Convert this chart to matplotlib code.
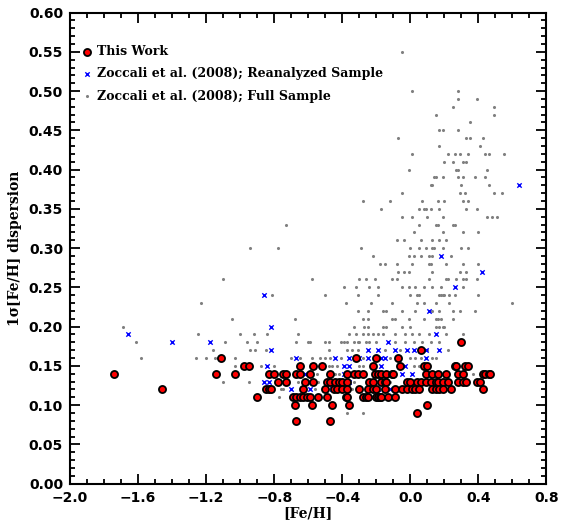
import matplotlib
matplotlib.use('Agg')
import matplotlib.pyplot as plt
from matplotlib.ticker import MultipleLocator

# dispersion levels (rows) and [Fe/H] values

# This Work (red circles)
work_levels = [0.18, 0.17, 0.16, 0.15, 0.14, 0.13, 0.12, 0.11, 0.10, 0.09, 0.08]
work_feh = [
    [0.30],
    [0.06],
    [-1.11, -0.32, -0.20, -0.07],
    [-0.98, -0.95, -0.65, -0.57, -0.52, -0.22, -0.06, 0.08, 0.10, 0.26, 0.27,
     0.32, 0.34],
    [-1.74, -1.14, -1.03, -0.83, -0.80, -0.75, -0.73, -0.67, -0.65, -0.59,
     -0.47, -0.37, -0.33, -0.31, -0.28, -0.21, -0.19, -0.17, -0.14, -0.11,
     -0.10, 0.09, 0.13, 0.16, 0.21, 0.28, 0.31, 0.43, 0.44, 0.46, 0.47],
    [-0.78, -0.73, -0.62, -0.57, -0.49, -0.47, -0.44, -0.42, -0.40, -0.37,
     -0.24, -0.22, -0.17, -0.15, -0.14, -0.02, 0.00, 0.04, 0.06, 0.09, 0.12,
     0.15, 0.16, 0.19, 0.22, 0.28, 0.31, 0.33, 0.39, 0.41],
    [-1.46, -0.85, -0.83, -0.82, -0.63, -0.50, -0.45, -0.43, -0.40, -0.37,
     -0.30, -0.25, -0.22, -0.20, -0.15, -0.09, -0.05, -0.02, 0.01, 0.03, 0.05,
     0.13, 0.15, 0.17, 0.19, 0.24, 0.43],
    [-0.90, -0.69, -0.67, -0.65, -0.63, -0.61, -0.59, -0.54, -0.49, -0.38,
     -0.37, -0.28, -0.26, -0.25, -0.20, -0.19, -0.18, -0.17, -0.13, -0.09],
    [-0.68, -0.58, -0.46, -0.36, 0.10],
    [0.04],
    [-0.67, -0.47],
]

# Zoccali et al. (2008); Reanalyzed Sample (blue crosses)
reanalyzed_feh = [-1.66, -1.40, -1.18, -0.86, -0.82, -0.82, -0.84, -0.86, -0.83,
                  -0.70, -0.67, -0.62, -0.60, -0.59, -0.46, -0.44, -0.39, -0.36,
                  -0.39, -0.36, -0.36, -0.30, -0.25, -0.25, -0.19, -0.19, -0.17,
                  -0.17, -0.15, -0.13, -0.12, -0.09, -0.05, -0.03, -0.02, 0.01,
                  0.02, 0.09, 0.09, 0.11, 0.15, 0.17, 0.18, 0.26, 0.42, 0.64]
reanalyzed_sig = [0.19, 0.18, 0.18, 0.24, 0.20, 0.17, 0.15, 0.13, 0.13,
                  0.12, 0.16, 0.14, 0.13, 0.12, 0.12, 0.16, 0.15, 0.15,
                  0.14, 0.13, 0.16, 0.16, 0.16, 0.17, 0.17, 0.12, 0.16,
                  0.15, 0.16, 0.18, 0.12, 0.17, 0.14, 0.15, 0.17, 0.14,
                  0.17, 0.17, 0.16, 0.22, 0.19, 0.17, 0.29, 0.25, 0.27, 0.38]

# Zoccali et al. (2008); Full Sample (grey dots)
full_levels = [0.55, 0.50, 0.49, 0.48, 0.47, 0.46, 0.45, 0.44, 0.43, 0.42,
               0.41, 0.40, 0.39, 0.38, 0.37, 0.36, 0.35, 0.34, 0.33, 0.32,
               0.31, 0.30, 0.29, 0.28, 0.27, 0.26, 0.25, 0.24, 0.23, 0.22,
               0.21, 0.20, 0.19, 0.18, 0.17, 0.16, 0.15, 0.14, 0.13, 0.12,
               0.11, 0.09]
full_feh = [
    [-0.05],
    [0.01, 0.28],
    [0.28, 0.39],
    [0.25, 0.49],
    [0.15, 0.49],
    [0.35],
    [0.17, 0.19, 0.28],
    [-0.07, 0.33, 0.35, 0.43],
    [0.17, 0.41],
    [0.01, 0.22, 0.26, 0.29, 0.34, 0.44, 0.46, 0.55],
    [0.20, 0.25, 0.31, 0.33],
    [-0.01, 0.27, 0.28, 0.45],
    [0.14, 0.15, 0.19, 0.28, 0.31, 0.38, 0.44],
    [0.12, 0.13, 0.30, 0.46],
    [-0.05, 0.29, 0.32, 0.49, 0.54],
    [-0.28, -0.12, 0.07, 0.16, 0.20, 0.31, 0.34],
    [-0.17, 0.05, 0.08, 0.09, 0.12, 0.17, 0.33, 0.39],
    [-0.05, 0.01, 0.10, 0.19, 0.45, 0.48, 0.51],
    [-0.73, 0.05, 0.15, 0.16, 0.25, 0.26],
    [0.02, 0.19, 0.31, 0.40],
    [-0.08, -0.04, 0.06, 0.13, 0.17, 0.21],
    [-0.94, -0.78, -0.29, 0.00, 0.05, 0.09, 0.13, 0.14, 0.19, 0.30, 0.34],
    [-0.22, -0.01, 0.02, 0.06, 0.11, 0.13, 0.24],
    [-0.18, -0.15, -0.08, 0.01, 0.11, 0.12, 0.21, 0.31, 0.40],
    [-0.07, -0.04, -0.01, 0.13, 0.29, 0.33],
    [-1.10, -0.58, -0.30, -0.26, -0.21, -0.11, -0.08, 0.11, 0.21, 0.22, 0.27,
     0.31, 0.33, 0.39],
    [-0.39, -0.32, -0.24, -0.19, -0.05, -0.01, 0.03, 0.08, 0.13, 0.18, 0.31],
    [-0.81, -0.50, -0.31, -0.19, 0.00, 0.04, 0.05, 0.17, 0.18, 0.19, 0.20,
     0.23, 0.26, 0.40],
    [-1.23, -0.38, -0.23, -0.11, 0.04, 0.08, 0.15, 0.23, 0.60],
    [-0.31, -0.25, -0.16, -0.14, -0.05, 0.03, 0.13, 0.17, 0.25, 0.29, 0.38],
    [-1.05, -0.68, -0.28, -0.25, -0.11, -0.09, -0.01, 0.08, 0.15, 0.16, 0.18,
     0.25],
    [-1.69, -0.33, -0.27, -0.25, -0.16, -0.14, -0.05, 0.00, 0.15, 0.17, 0.19,
     0.20],
    [-1.25, -1.00, -0.92, -0.84, -0.66, -0.36, -0.32, -0.28, -0.25, -0.22,
     -0.19, -0.16, -0.09, -0.03, 0.01, 0.05, 0.11, 0.21, 0.31],
    [-1.61, -1.09, -0.96, -0.90, -0.67, -0.60, -0.59, -0.50, -0.48, -0.41,
     -0.39, -0.37, -0.33, -0.31, -0.30, -0.26, -0.24, -0.20, -0.09, -0.03,
     0.02, 0.07, 0.12, 0.17],
    [-1.16, -0.94, -0.91, -0.85, -0.48, -0.37, -0.34, -0.31, -0.15, -0.06,
     0.10, 0.22],
    [-1.58, -1.26, -1.20, -1.15, -1.13, -1.03, -0.70, -0.65, -0.58, -0.53,
     -0.50, -0.47, -0.41, -0.28, -0.12, 0.00, 0.03, 0.06, 0.13, 0.15],
    [-1.03, -0.88, -0.80, -0.48, -0.46, -0.43, -0.30, -0.28, 0.02, 0.05],
    [-0.55, -0.44, -0.42, -0.36, -0.27, 0.37],
    [-1.10, -0.95, -0.66, -0.54, -0.33, -0.12, 0.34],
    [-0.76, -0.75, -0.56, -0.34, -0.22, -0.16],
    [-0.77, -0.71],
    [-0.37, -0.28],
]


def flatten(levels, rows):
    xs, ys = [], []
    for lev, row in zip(levels, rows):
        for v in row:
            xs.append(v)
            ys.append(lev)
    return xs, ys


full_x, full_y = flatten(full_levels, full_feh)
work_x, work_y = flatten(work_levels, work_feh)

serif = {'family': 'DejaVu Serif', 'weight': 'bold'}

fig = plt.figure(figsize=(5.71, 5.23), dpi=100)
ax = fig.add_axes([0.1226, 0.0753, 0.8344, 0.9007])

h_full = ax.scatter(full_x, full_y, s=5, color='#808080', linewidths=0, zorder=2,
                    label='Zoccali et al. (2008); Full Sample')
h_re = ax.scatter(reanalyzed_feh, reanalyzed_sig, s=10, marker='x', color='blue',
                  linewidths=1.0, zorder=3,
                  label='Zoccali et al. (2008); Reanalyzed Sample')
h_work = ax.scatter(work_x, work_y, s=26, color='red', edgecolors='black',
                    linewidths=1.3, zorder=4, label='This Work')

ax.set_xlim(-2.0, 0.8)
ax.set_ylim(0.0, 0.6)
ax.xaxis.set_major_locator(MultipleLocator(0.4))
ax.xaxis.set_minor_locator(MultipleLocator(0.1))
ax.yaxis.set_major_locator(MultipleLocator(0.05))
ax.yaxis.set_minor_locator(MultipleLocator(0.01))
ax.tick_params(which='both', direction='in', top=True, right=True, width=1.3)
ax.tick_params(which='major', length=7, labelsize=10)
ax.tick_params(which='minor', length=3.5)
ax.tick_params(axis='x', which='major', pad=5)
ax.tick_params(axis='y', which='major', pad=5)
ax.xaxis.set_major_formatter(plt.FuncFormatter(lambda v, p: f'{v:.1f}'.replace('-', '\u2212')))
ax.yaxis.set_major_formatter(plt.FuncFormatter(lambda v, p: f'{v:.2f}'))
for lab in ax.get_xticklabels() + ax.get_yticklabels():
    lab.set_fontweight('bold')
for sp in ax.spines.values():
    sp.set_linewidth(1.5)

ax.set_xlabel('[Fe/H]', fontdict=dict(serif, size=10), labelpad=1)
ax.set_ylabel('1σ[Fe/H] dispersion', fontdict=dict(serif, size=10), labelpad=5)

ax.legend(handles=[h_work, h_re, h_full], loc='upper left',
          bbox_to_anchor=(0.01, 0.95), frameon=False, handlelength=0.6,
          handletextpad=0.5, labelspacing=0.75, borderaxespad=0.3,
          prop=dict(serif, size=9))

fig.savefig('out.png', dpi=100)
